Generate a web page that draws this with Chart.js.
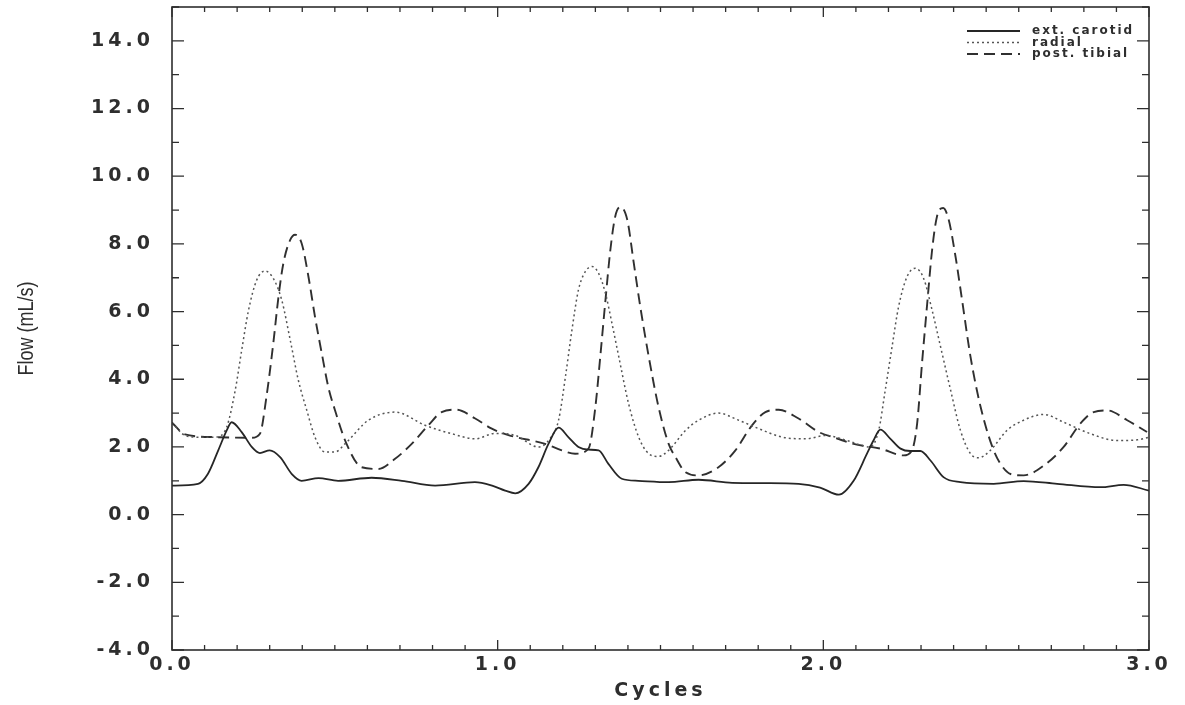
<!DOCTYPE html>
<html>
<head>
<meta charset="utf-8">
<script src="https://cdn.jsdelivr.net/npm/chart.js"></script>
<style>
    body { margin: 0; background: #fff; }
</style>
</head>
<body>
<canvas id="flowChart" width="1185" height="705"></canvas>

<script>
// values, x in cycles, y in mL/s
var carotidX = [0, 0.01, 0.08, 0.11, 0.142, 0.168, 0.183, 0.214, 0.245, 0.27, 0.3, 0.332, 0.368, 0.398, 0.45, 0.51, 0.613, 0.706, 0.808, 0.93, 0.985, 1.023, 1.054, 1.095, 1.125, 1.156, 1.187, 1.217, 1.248, 1.279, 1.31, 1.34, 1.381, 1.432, 1.525, 1.617, 1.72, 1.822, 1.924, 1.99, 2.048, 2.093, 2.134, 2.154, 2.175, 2.206, 2.237, 2.267, 2.298, 2.329, 2.37, 2.421, 2.523, 2.615, 2.718, 2.851, 2.922, 3.0]
var carotidY = [0.86, 0.86, 0.91, 1.2, 1.9, 2.49, 2.73, 2.44, 2.0, 1.82, 1.9, 1.7, 1.2, 1.0, 1.08, 1.0, 1.09, 1.0, 0.86, 0.96, 0.85, 0.71, 0.63, 0.91, 1.4, 2.09, 2.57, 2.29, 2.0, 1.92, 1.9, 1.5, 1.06, 1.0, 0.96, 1.03, 0.94, 0.93, 0.91, 0.8, 0.59, 1.0, 1.8, 2.19, 2.51, 2.24, 1.95, 1.88, 1.88, 1.6, 1.1, 0.96, 0.91, 0.99, 0.91, 0.81, 0.88, 0.71]

var radialX = [0, 0.04, 0.08, 0.132, 0.168, 0.194, 0.214, 0.235, 0.26, 0.286, 0.311, 0.337, 0.363, 0.388, 0.414, 0.439, 0.47, 0.5, 0.536, 0.603, 0.685, 0.777, 0.859, 0.931, 0.992, 1.054, 1.125, 1.161, 1.187, 1.208, 1.228, 1.248, 1.269, 1.29, 1.31, 1.331, 1.351, 1.372, 1.402, 1.433, 1.464, 1.494, 1.525, 1.577, 1.617, 1.678, 1.74, 1.802, 1.874, 1.946, 2.007, 2.073, 2.144, 2.17, 2.19, 2.211, 2.231, 2.257, 2.283, 2.308, 2.334, 2.36, 2.391, 2.421, 2.452, 2.477, 2.513, 2.564, 2.615, 2.677, 2.738, 2.82, 2.902, 2.964, 3.0]
var radialY = [2.72, 2.34, 2.29, 2.29, 2.59, 3.67, 4.86, 6.04, 6.93, 7.2, 6.98, 6.34, 5.16, 3.97, 3.08, 2.29, 1.85, 1.85, 2.14, 2.79, 3.03, 2.64, 2.39, 2.24, 2.4, 2.34, 2.0, 2.25, 2.79, 4.07, 5.45, 6.64, 7.18, 7.33, 7.13, 6.54, 5.65, 4.66, 3.28, 2.29, 1.8, 1.72, 1.9, 2.49, 2.79, 3.0, 2.79, 2.54, 2.29, 2.24, 2.34, 2.19, 2.0, 2.49, 3.67, 4.96, 6.14, 7.03, 7.28, 6.98, 6.04, 4.96, 3.67, 2.49, 1.8, 1.68, 1.9, 2.49, 2.79, 2.96, 2.73, 2.39, 2.19, 2.21, 2.29]

var tibialX = [0, 0.04, 0.132, 0.245, 0.27, 0.29, 0.311, 0.327, 0.342, 0.363, 0.378, 0.398, 0.419, 0.439, 0.46, 0.48, 0.5, 0.536, 0.582, 0.634, 0.685, 0.736, 0.787, 0.828, 0.874, 0.931, 0.982, 1.033, 1.146, 1.197, 1.238, 1.279, 1.3, 1.315, 1.331, 1.346, 1.361, 1.377, 1.398, 1.418, 1.438, 1.464, 1.494, 1.525, 1.546, 1.577, 1.617, 1.678, 1.73, 1.781, 1.822, 1.863, 1.924, 1.986, 2.042, 2.093, 2.175, 2.246, 2.272, 2.288, 2.303, 2.319, 2.334, 2.349, 2.368, 2.385, 2.406, 2.426, 2.452, 2.483, 2.519, 2.544, 2.575, 2.615, 2.677, 2.738, 2.789, 2.83, 2.871, 2.933, 2.994]
var tibialY = [2.72, 2.37, 2.29, 2.27, 2.39, 3.48, 5.06, 6.44, 7.43, 8.12, 8.27, 8.02, 7.03, 5.85, 4.76, 3.77, 3.1, 2.09, 1.4, 1.35, 1.65, 2.09, 2.64, 3.03, 3.1, 2.84, 2.54, 2.35, 2.09, 1.9, 1.8, 1.95, 3.18, 4.66, 6.34, 7.82, 8.81, 9.09, 8.71, 7.43, 6.14, 4.66, 3.18, 2.09, 1.7, 1.25, 1.16, 1.4, 1.9, 2.64, 3.03, 3.1, 2.84, 2.44, 2.25, 2.09, 1.95, 1.75, 1.9, 2.69, 4.47, 6.24, 7.82, 8.81, 9.06, 8.71, 7.62, 6.34, 4.66, 3.18, 2.0, 1.5, 1.2, 1.16, 1.45, 2.0, 2.69, 3.03, 3.08, 2.79, 2.44]

var seriesNames = ['ext. carotid', 'radial', 'post. tibial']
var xTickLabels = ['0.0', '1.0', '2.0', '3.0']
var yTickLabels = ['-4.0', '-2.0', '0.0', '2.0', '4.0', '6.0', '8.0', '10.0', '12.0', '14.0']

function pairs(xs, ys) {
    var out = []
    for (var i = 0; i < xs.length; i++) out.push({ x: xs[i], y: ys[i] })
    return out
}

var ink = '#2e2e2e'

// frame, inward ticks, y title and the small legend in the corner
var framePlugin = {
    id: 'framePlugin',
    beforeUpdate: function(chart) { chart.ctx.letterSpacing = '4px' },
    beforeDraw: function(chart) { chart.ctx.letterSpacing = '4px' },
    afterDraw: function(chart) {
        var ctx = chart.ctx
        var a = chart.chartArea
        var xs = chart.scales.x
        var ys = chart.scales.y
        ctx.save()
        ctx.strokeStyle = ink
        ctx.lineWidth = 1.6
        ctx.setLineDash([])
        ctx.strokeRect(a.left, a.top, a.right - a.left, a.bottom - a.top)

        ctx.lineWidth = 1.3
        ctx.beginPath()
        for (var i = 0; i <= 30; i++) {
            var px = xs.getPixelForValue(i / 10)
            var len = (i % 10 == 0) ? 10 : 5
            ctx.moveTo(px, a.bottom); ctx.lineTo(px, a.bottom - len)
            ctx.moveTo(px, a.top); ctx.lineTo(px, a.top + len)
        }
        for (var v = -4; v <= 15; v++) {
            var py = ys.getPixelForValue(v)
            var l2 = (v % 2 == 0) ? 12 : 7
            ctx.moveTo(a.left, py); ctx.lineTo(a.left + l2, py)
            ctx.moveTo(a.right, py); ctx.lineTo(a.right - l2, py)
        }
        ctx.stroke()

        // y axis title, condensed and unspaced in the original
        ctx.letterSpacing = '0px'
        ctx.save()
        ctx.translate(27, (a.top + a.bottom) / 2)
        ctx.rotate(-Math.PI / 2)
        ctx.scale(0.82, 1)
        ctx.fillStyle = ink
        ctx.font = '22px "Liberation Sans"'
        ctx.textAlign = 'center'
        ctx.textBaseline = 'middle'
        ctx.fillText('Flow (mL/s)', 0, 0)
        ctx.restore()

        // legend
        ctx.letterSpacing = '2px'
        ctx.font = 'bold 12px "DejaVu Sans"'
        ctx.textBaseline = 'middle'
        ctx.textAlign = 'left'
        chart.data.datasets.forEach(function(ds, k) {
            var y = 31 + k * 11.5
            ctx.strokeStyle = ds.borderColor
            ctx.lineWidth = ds.borderWidth
            ctx.setLineDash(ds.borderDash || [])
            ctx.beginPath()
            ctx.moveTo(967, y); ctx.lineTo(1020, y)
            ctx.stroke()
            ctx.fillStyle = ink
            ctx.fillText(ds.label, 1032, y)
        })
        ctx.restore()
    }
}

var ctx = document.getElementById('flowChart').getContext('2d')

var flowChart = new Chart(ctx, {
    type: 'line',
    data: {
        datasets: [{
            label: seriesNames[0],
            data: pairs(carotidX, carotidY),
            borderColor: '#262626',
            borderWidth: 1.8,
            borderDash: []
        }, {
            label: seriesNames[1],
            data: pairs(radialX, radialY),
            borderColor: '#555555',
            borderWidth: 1.5,
            borderDash: [2, 3]
        }, {
            label: seriesNames[2],
            data: pairs(tibialX, tibialY),
            borderColor: '#303030',
            borderWidth: 1.9,
            borderDash: [11, 6]
        }]
    },
    options: {
        responsive: false,
        animation: false,
        cubicInterpolationMode: 'monotone',
        layout: { padding: { left: 0, top: 7, right: 36, bottom: 0 } },
        elements: { point: { radius: 0 }, line: { fill: false } },
        plugins: { legend: { display: false }, tooltip: { enabled: false } },
        scales: {
            x: {
                type: 'linear',
                min: 0,
                max: 3,
                grid: { display: false, drawTicks: false },
                border: { display: false },
                ticks: {
                    stepSize: 1,
                    padding: 4,
                    maxRotation: 0,
                    color: ink,
                    font: { family: '"DejaVu Sans"', size: 19, weight: 'bold' },
                    callback: function(v) { return xTickLabels[v] !== undefined ? xTickLabels[v] : '' }
                },
                title: {
                    display: true,
                    text: 'Cycles',
                    color: ink,
                    font: { family: '"DejaVu Sans"', size: 19, weight: 'bold' },
                    padding: { top: 0, bottom: 3 }
                },
                afterFit: function(s) { s.height = 55; s.paddingLeft = 0; s.paddingRight = 0 }
            },
            y: {
                min: -4,
                max: 15,
                grid: { display: false, drawTicks: false },
                border: { display: false },
                ticks: {
                    stepSize: 2,
                    includeBounds: false,
                    padding: 18,
                    color: ink,
                    font: { family: '"DejaVu Sans"', size: 19, weight: 'bold' },
                    callback: function(v) {
                        var idx = (v + 4) / 2
                        return yTickLabels[idx] !== undefined ? yTickLabels[idx] : ''
                    }
                },
                afterFit: function(s) { s.width = 172; s.paddingTop = 0; s.paddingBottom = 0 }
            }
        }
    },
    plugins: [framePlugin]
})
</script>
</body>
</html>
